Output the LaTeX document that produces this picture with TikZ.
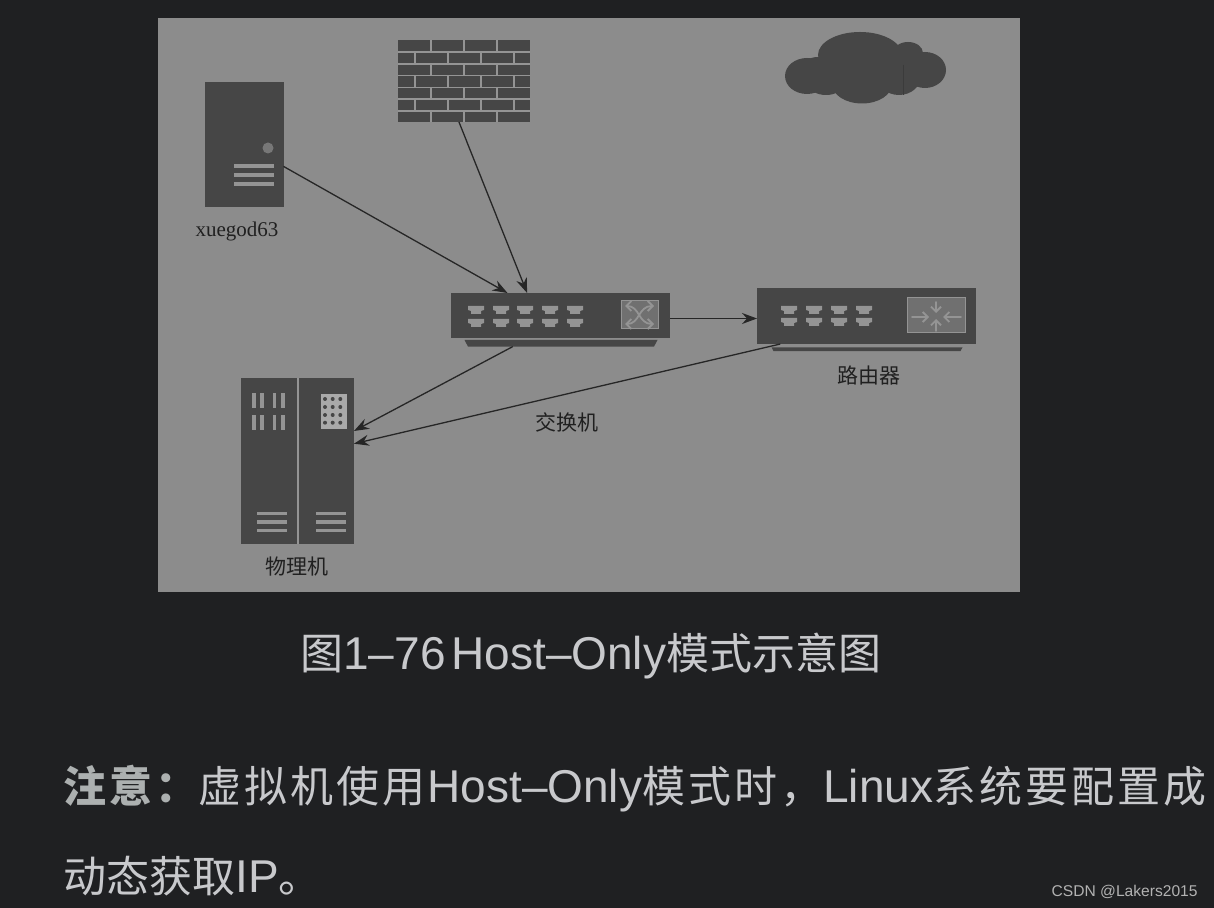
\documentclass[tikz,border=0pt]{standalone}
\usepackage{fontspec}
\setmainfont{Liberation Serif}
\newfontfamily\cjkfont{Noto Sans CJK SC}
\newfontfamily\cjkwide[LetterSpace=7]{Noto Sans CJK SC}
\newfontfamily\markfont{Liberation Sans}
\newcommand{\latn}[1]{{\markfont\fontsize{23}{26}\selectfont #1}}
\usetikzlibrary{arrows.meta, positioning, calc}
\definecolor{pagedark}{RGB}{31,32,34}
\definecolor{panelgray}{RGB}{140,140,140}
\definecolor{boxdark}{RGB}{70,70,70}
\definecolor{iconlight}{RGB}{148,148,148}
\definecolor{iconmid}{RGB}{112,112,112}
\definecolor{inklabel}{RGB}{32,32,32}
\definecolor{captext}{RGB}{200,201,204}
\definecolor{boldtext}{RGB}{172,176,176}
\tikzset{
    devbox/.style={draw=none, fill=boxdark, inner sep=0pt, outer sep=0pt, minimum width=#1},
    basebar/.style={draw=none, inner sep=0pt, outer sep=0pt, minimum width=#1},
    conn/.style={-{Stealth[length=7.5pt,width=5.5pt,inset=2.5pt]}, draw=black!85, line width=0.65pt},
    barb/.style={iconlight, line width=0.9pt, line cap=round},
    tag/.style={font=\fontsize{10.5}{12}\selectfont, text=inklabel, inner sep=0pt},
    cjktag/.style={font=\cjkfont\fontsize{10.5}{12}\selectfont, text=inklabel, inner sep=0pt},
    captxt/.style={font=\cjkfont\fontsize{21.5}{26}\selectfont, text=captext, inner sep=0pt, anchor=west}
}
\newcommand{\portglyph}[2]{\fill[iconlight] (#1-8,#2-4) -- (#1+8,#2-4) -- (#1+8,#2) -- (#1+5,#2+1) -- (#1+5,#2+4) -- (#1-5,#2+4) -- (#1-5,#2+1) -- (#1-8,#2) -- cycle;}
\begin{document}
\begin{tikzpicture}[x=0.5pt, y=-0.5pt]
    % Page and panel
    \useasboundingbox (0,0) rectangle (1214,908);
    \fill[pagedark] (0,0) rectangle (1214,908);
    \fill[panelgray] (158,18) rectangle (1020,592);

    % Devices
    \node[devbox=39.5pt, minimum height=62.5pt] (server) at (244,144.5) {};
    \node[devbox=66pt, minimum height=41pt] (firewall) at (464,81) {};
    \node[devbox=109.5pt, minimum height=22.5pt] (switch) at (560.5,315.5) {};
    \node[devbox=109.5pt, minimum height=28pt] (router) at (866.5,316) {};
    \node[devbox=56.5pt, minimum height=83pt] (rack) at (297.5,461) {};
    \node[basebar=96.5pt, minimum height=3.3pt] (swbase) at (561,343.3) {};
    \node[basebar=95.5pt, minimum height=1.9pt] (rtbase) at (867,349.2) {};
    \fill[boxdark] (swbase.north west) -- (swbase.north east) -- ($(swbase.south east)+(-3.5,0)$) -- ($(swbase.south west)+(3.5,0)$) -- cycle;
    \fill[boxdark] (rtbase.north west) -- (rtbase.north east) -- ($(rtbase.south east)+(-2,0)$) -- ($(rtbase.south west)+(2,0)$) -- cycle;

    % Server details
    \fill[iconmid!80!iconlight] (268,148) circle (5.5);
    \foreach \y in {166,175,184}
        \fill[iconlight] (233.5,\y-1.9) rectangle (274,\y+1.9);

    % Firewall bricks
    \foreach \y in {52,64,75.5,87.5,99,111}
        \draw[iconlight, line width=0.55pt] (398,\y) -- (530,\y);
    \foreach \y in {40,64,87.5,111}
        \foreach \x in {431,464,497}
            \draw[iconlight, line width=0.55pt] (\x,\y) -- (\x,\y+11.5);
    \foreach \y in {52,75.5,99}
        \foreach \x in {415,448,481,514}
            \draw[iconlight, line width=0.55pt] (\x,\y) -- (\x,\y+12);

    % Switch and router ports
    \foreach \x in {476,501,525,550,575}
        \foreach \y in {310,323}
            {\portglyph{\x}{\y}}
    \foreach \x in {789,814,839,864}
        \foreach \y in {310,322}
            {\portglyph{\x}{\y}}

    % Switch icon
    \draw[iconlight, fill=iconmid, line width=0.5pt] (621,301) rectangle (658,329);
    \draw[barb, {Straight Barb[length=2.5pt,width=5pt]}-{Straight Barb[length=2.5pt,width=5pt]}] (625,306) .. controls (640,306) and (638,324) .. (654,324);
    \draw[barb, {Straight Barb[length=2.5pt,width=5pt]}-{Straight Barb[length=2.5pt,width=5pt]}] (625,324) .. controls (640,324) and (638,306) .. (654,306);

    % Router icon
    \draw[iconlight, fill=iconmid, line width=0.5pt] (907,298) rectangle (965,333);
    \foreach \xa/\ya/\xb/\yb in {912/317/929/317, 961/317/943/317, 936/302/936/313, 936/331/936/319}
        \draw[barb, -{Straight Barb[length=2.5pt,width=5pt]}] (\xa,\ya) -- (\xb,\yb);

    % Rack details
    \draw[iconlight, line width=0.9pt] (298,378) -- (298,544);
    \foreach \x in {253.7,262,274.3,282.7}
        \foreach \y in {400.5,422.5}
            \fill[iconlight] (\x-1.8,\y-7.5) rectangle (\x+1.8,\y+7.5);
    \fill[iconlight!80!white] (320.5,394) rectangle (346.5,429);
    \foreach \x in {325,332.7,340.3}
        \foreach \y in {399,407,415,422.7}
            \fill[boxdark] (\x,\y) circle (2);
    \foreach \x in {257,316}
        \foreach \y in {513.3,522,530.7}
            \fill[iconlight] (\x,\y-1.6) rectangle (\x+30,\y+1.6);

    % Cloud
    \fill[boxdark] (807,76) ellipse (22 and 18);
    \fill[boxdark] (818,68) ellipse (16 and 11);
    \fill[boxdark] (826,86) ellipse (16 and 9);
    \fill[boxdark] (860,55) ellipse (42 and 23);
    \fill[boxdark] (862,84) ellipse (30 and 19.5);
    \fill[boxdark] (850,72) ellipse (50 and 18);
    \fill[boxdark] (925,70) ellipse (21 and 18);
    \fill[boxdark] (908,53) ellipse (15 and 11);
    \fill[boxdark] (899,76) ellipse (22 and 19);
    \draw[black!15!boxdark, line width=0.3pt] (903,65) -- (903,95);

    % Connectors
    \draw[conn] (server.-29.4) -- (switch.157.2);
    \draw[conn] (firewall.-97) -- (switch.146.1);
    \draw[conn] ($(switch.east)+(0,3)$) -- ($(router.west)+(0,2.5)$);
    \draw[conn] ($(swbase.south west)!0.25!(swbase.south east)$) -- (rack.28);
    \draw[conn] (router.-162.6) -- (rack.17.7);

    % Labels
    \node[tag] (servertag) at (237,231) {xuegod63};
    \node[cjktag] (routertag) at (868.5,376) {路由器};
    \node[cjktag] (switchtag) at (566.5,422) {交换机};
    \node[cjktag] (racktag) at (297,567) {物理机};

    % Text below
    \node[captxt] (caption) at (300,656) {图\latn{1–76\hspace{-3.5pt} Host–Only}模式示意图};
    \node[captxt] (note) at (63,789) {{\cjkwide\bfseries\color{boldtext}注意：}{\cjkwide 虚拟机使用}\hspace{1pt}\latn{Host–Only}{\cjkwide 模式时，}\latn{Linux}{\cjkwide 系统要配置成}};
    \node[captxt] (notetail) at (63,876) {动态获取\latn{IP}。};
    \node[font=\markfont\fontsize{7.8}{9}\selectfont, text=black!30, inner sep=0pt, anchor=east] (mark) at (1198,892) {CSDN @Lakers2015};
\end{tikzpicture}
\end{document}
